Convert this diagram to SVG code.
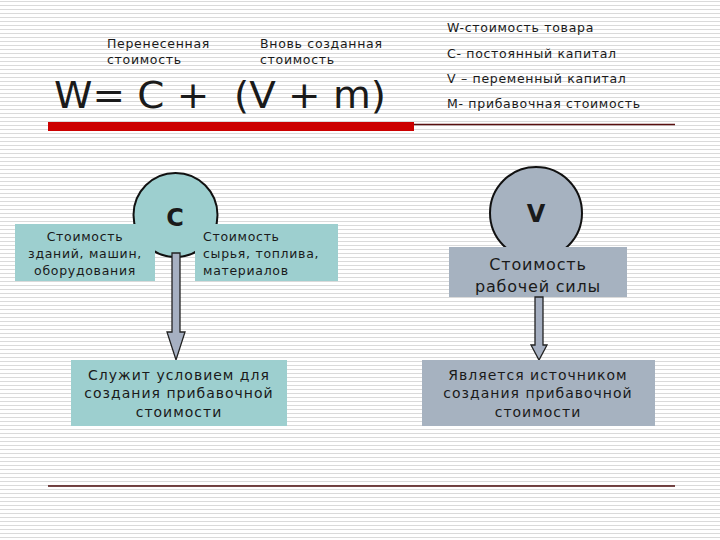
<svg xmlns="http://www.w3.org/2000/svg" width="720" height="540" viewBox="0 0 720 540">
<defs>
<pattern id="stripes" x="0" y="0" width="8" height="4" patternUnits="userSpaceOnUse">
<rect x="0" y="0" width="8" height="4" fill="#ffffff"/>
<rect x="0" y="1" width="8" height="1" fill="#dadada"/>
</pattern>
<style>
text{font-family:"DejaVu Sans","Verdana",sans-serif;fill:#1a1a1a}
.s13{font-size:12.5px;letter-spacing:0.7px}
.s14{font-size:14px;letter-spacing:1px}
.s16{font-size:16px;letter-spacing:0.8px}
.mid{text-anchor:middle}
.teal{fill:#9dcfcf}
.grey{fill:#a6b2c0}
.circ{stroke:#111;stroke-width:2}
.arrow{fill:#a6b0c2;stroke:#222;stroke-width:1.3}
</style>
</defs>
<rect width="720" height="540" fill="url(#stripes)"/>

<g id="header">
<text class="s13" x="107" y="48">Перенесенная</text>
<text class="s13" x="107" y="64">стоимость</text>
<text class="s13" x="260" y="48">Вновь созданная</text>
<text class="s13" x="260" y="64">стоимость</text>
<text x="54" y="108" style="font-size:38px" xml:space="preserve" textLength="332" lengthAdjust="spacingAndGlyphs">W= C +  (V + m)</text>
<rect x="48" y="122" width="366" height="9" fill="#cc0000"/>
<line x1="414" y1="124.5" x2="675" y2="124.5" stroke="#5a1010" stroke-width="1.5"/>
</g>

<g id="legend">
<text class="s13" x="447" y="32">W-стоимость товара</text>
<text class="s13" x="447" y="58">C- постоянный капитал</text>
<text class="s13" x="447" y="83">V – переменный капитал</text>
<text class="s13" x="447" y="108">M- прибавочная стоимость</text>
</g>

<g id="nodeC">
<circle class="teal circ" cx="175.5" cy="215" r="42"/>
<text x="175" y="226" class="mid" style="font-size:24px;font-weight:bold">C</text>
</g>

<g id="boxC1">
<rect class="teal" x="15" y="224" width="140" height="57"/>
<text class="s13 mid" x="85" y="241">Стоимость</text>
<text class="s13 mid" x="85" y="258">зданий, машин,</text>
<text class="s13 mid" x="85" y="275">оборудования</text>
</g>

<g id="boxC2">
<rect class="teal" x="195" y="224" width="143" height="57"/>
<text class="s13" x="203" y="241">Стоимость</text>
<text class="s13" x="203" y="258">сырья, топлива,</text>
<text class="s13" x="203" y="275">материалов</text>
</g>

<g id="nodeV">
<circle class="grey circ" cx="536" cy="213" r="46"/>
<text x="536" y="222" class="mid" style="font-size:24px;font-weight:bold">V</text>
</g>

<g id="boxV">
<rect class="grey" x="449" y="247" width="178" height="50"/>
<text class="s16 mid" x="538" y="270">Стоимость</text>
<text class="s16 mid" x="538" y="292">рабочей силы</text>
</g>

<g id="connectors">
<path class="arrow" d="M172,253 L180,253 L180,332 L185,332 L176,360 L167,332 L172,332 Z"/>
<path class="arrow" d="M535,297 L543,297 L543,345 L547,345 L539,360 L531,345 L535,345 Z"/>
</g>

<g id="boxC3">
<rect class="teal" x="71" y="360" width="216" height="66"/>
<text class="s14 mid" x="179" y="380">Служит условием для</text>
<text class="s14 mid" x="179" y="398">создания прибавочной</text>
<text class="s14 mid" x="179" y="417">стоимости</text>
</g>

<g id="boxV2">
<rect class="grey" x="422" y="360" width="233" height="66"/>
<text class="s14 mid" x="538" y="380">Является источником</text>
<text class="s14 mid" x="538" y="398">создания прибавочной</text>
<text class="s14 mid" x="538" y="417">стоимости</text>
</g>

<g id="footer">
<line x1="48" y1="486" x2="675" y2="486" stroke="#4a0a0a" stroke-width="1.5"/>
</g>
</svg>
